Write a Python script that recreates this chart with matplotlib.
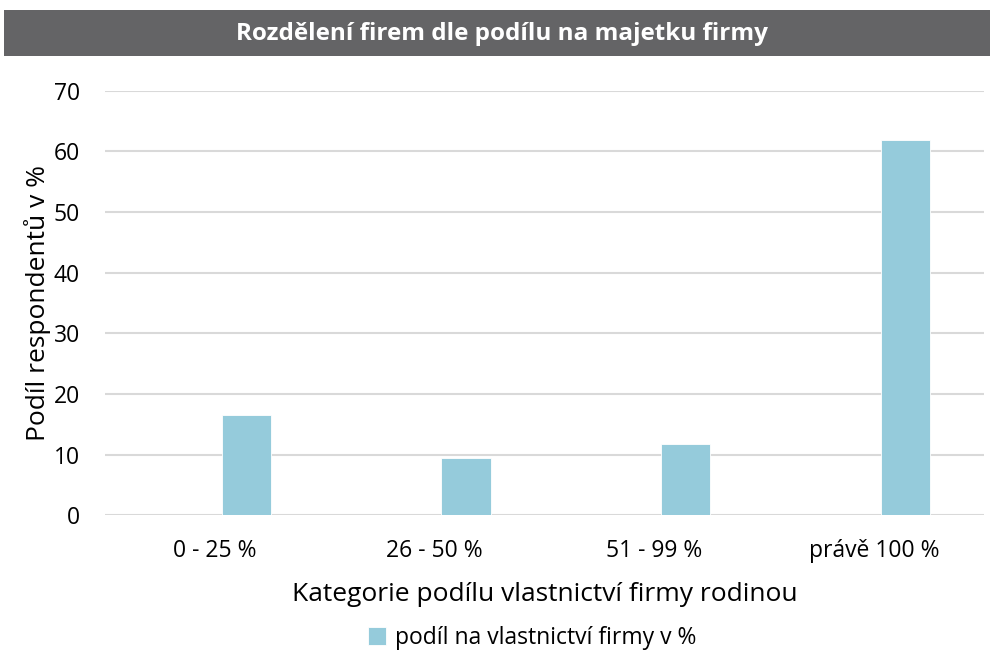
import matplotlib.pyplot as plt
from matplotlib.patches import Rectangle

# Data
categories = ['0 - 25 %', '26 - 50 %', '51 - 99 %', 'právě 100 %']
shares = [16.6, 9.5, 11.8, 61.8]
series_name = 'podíl na vlastnictví firmy v %'

bar_color = '#95CBDB'
grid_color = '#D9D9D9'

plt.rcParams['font.family'] = ['Open Sans', 'DejaVu Sans']

fig = plt.figure(figsize=(9.91, 6.54), dpi=100)
ax = fig.add_axes([105 / 991, 1 - 515.3 / 654, 879 / 991, (515.3 - 90.7) / 654])

# bars sit just right of the category centre (empty first series in original)
width = 0.224
offset = 0.031 + width / 2
xs = [i + offset for i in range(len(categories))]
ax.bar(xs, shares, width=width, color=bar_color, edgecolor='white', linewidth=0.6,
       label=series_name, zorder=3)

ax.set_xlim(-0.5, len(categories) - 0.5)
ax.set_ylim(0, 70)
ax.set_yticks(range(0, 71, 10))
ax.set_xticks(range(len(categories)))
ax.set_xticklabels(categories, fontsize=16.5)
ax.tick_params(axis='y', labelsize=16.5, length=0, pad=18)
ax.tick_params(axis='x', length=0, pad=17)
ax.grid(axis='y', color=grid_color, linewidth=1.5, zorder=0)
for s in ax.spines.values():
    s.set_visible(False)

ax.set_xlabel('Kategorie podílu vlastnictví firmy rodinou', fontsize=19, labelpad=14)
ax.set_ylabel('Podíl respondentů v %', fontsize=19, labelpad=2)

# grey title band across the top
fig.patches.append(Rectangle((4 / 991, 1 - 55.7 / 654), 986 / 991, 45.7 / 654,
                             transform=fig.transFigure, facecolor='#646466',
                             edgecolor='none', zorder=0))
fig.text(0.507, 1 - 34 / 654, 'Rozdělení firem dle podílu na majetku firmy',
         ha='center', va='center', color='white', fontsize=17.5, fontweight='bold')

fig.legend(loc='center', bbox_to_anchor=(0.537, 1 - 638 / 654), frameon=False,
           fontsize=16.5, handlelength=0.8, handleheight=0.8, handletextpad=0.4)

fig.savefig('out.png', dpi=100)
